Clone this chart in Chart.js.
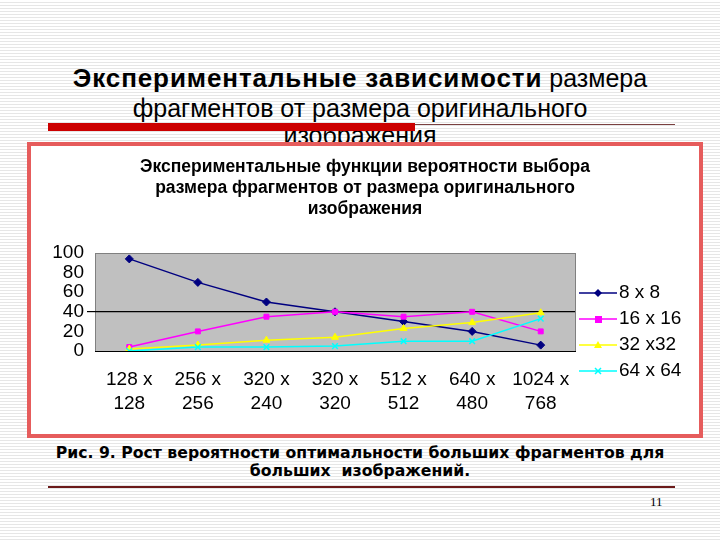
<!DOCTYPE html>
<html>
<head>
<meta charset="utf-8">
<script src="https://cdn.jsdelivr.net/npm/chart.js@4/dist/chart.umd.min.js"></script>
<style>
  html, body { margin: 0; padding: 0; }
  body {
    width: 720px; height: 540px; position: relative; overflow: hidden;
    background: repeating-linear-gradient(#ffffff 0px, #ffffff 2px, #e6e6e6 2px, #e6e6e6 3px);
    font-family: "Liberation Sans", Arial, sans-serif;
  }
  .head { position: absolute; left: 0; width: 720px; text-align: center; font-size: 25px; color: #000; line-height: 29px; }
  .head b { font-size: 26px; letter-spacing: 0.9px; }
  #redbar { position: absolute; left: 48px; top: 123px; width: 367px; height: 8px; background: #cc0000; }
  #thin { position: absolute; left: 415px; top: 124px; width: 260px; height: 1px; background: #7a4040; }
  #box { position: absolute; left: 27px; top: 142px; width: 668px; height: 288px; border: 4px solid #e65c5c; background: #fff; }
  #ctitle { position: absolute; left: 27px; top: 156px; width: 676px; text-align: center; font-size: 17.5px; font-weight: bold; line-height: 21px; }
  #legend { position: absolute; left: 579px; top: 279px; font-size: 19px; }
  #legend div { height: 26px; line-height: 26px; white-space: nowrap; }
  #legend svg { vertical-align: middle; margin-right: 2px; }
  .cap { position: absolute; left: 0; width: 720px; text-align: center; font-family: "DejaVu Sans", sans-serif; font-weight: bold; font-size: 15.7px; line-height: 18px; }
  #bline { position: absolute; left: 48px; top: 486px; width: 627px; height: 2px; background: #6b1a1a; }
  #pg { position: absolute; left: 650px; top: 494px; font-family: "Liberation Serif", serif; font-size: 13px; }
</style>
</head>
<body>
<div class="head" style="top:64px"><b>Экспериментальные зависимости</b> размера</div>
<div class="head" style="top:94px">фрагментов от размера оригинального</div>
<div class="head" style="top:121px">изображения</div>
<div id="redbar"></div>
<div id="thin"></div>
<div id="box"><canvas id="c" width="668" height="288"></canvas></div>
<div id="ctitle">Экспериментальные функции вероятности выбора<br>размера фрагментов от размера оригинального<br>изображения</div>
<div id="legend"></div>
<div class="cap" style="top:444px">Рис. 9. Рост вероятности оптимальности больших фрагментов для</div>
<div class="cap" style="top:462px">больших&nbsp; изображений.</div>
<div id="bline"></div>
<div id="pg">11</div>
<script>
// image sizes (x axis categories)
const sizes = [["128 x", "128"], ["256 x", "256"], ["320 x", "240"], ["320 x", "320"],
               ["512 x", "512"], ["640 x", "480"], ["1024 x", "768"]];
const seriesNames = ["8 x 8", "16 x 16", "32 x32", "64 x 64"];
// probability values
const frag8 = [94, 70, 50, 40, 30, 20, 6];
const frag16 = [4, 20, 35, 40, 35, 40, 20];
const frag32 = [2, 6, 11, 14, 23, 29, 39];
const frag64 = [0, 4, 4, 5, 10, 10, 33];
const yTicks = [0, 20, 40, 60, 80, 100];

const colors = ["#000080", "#ff00ff", "#ffff00", "#00ffff"];
const shapes = ["rectRot", "rect", "triangle", "crossRot"];
const values = [frag8, frag16, frag32, frag64];

// gray plot area like excel
const plotBg = {
  id: "plotBg",
  beforeDraw(chart) {
    const a = chart.chartArea, ctx = chart.ctx;
    ctx.save();
    ctx.fillStyle = "#c0c0c0";
    ctx.fillRect(a.left, a.top, a.right - a.left, a.bottom - a.top);
    ctx.strokeStyle = "#808080";
    ctx.lineWidth = 1;
    ctx.strokeRect(a.left + 0.5, a.top + 0.5, a.right - a.left, a.bottom - a.top);
    ctx.restore();
  }
};

new Chart(document.getElementById("c"), {
  type: "line",
  data: {
    labels: sizes,
    datasets: values.map((v, i) => ({
      label: seriesNames[i],
      data: v,
      borderColor: colors[i],
      backgroundColor: colors[i],
      borderWidth: 1.5,
      pointStyle: shapes[i],
      pointRadius: i == 1 ? 3.5 : 4,
      pointBorderWidth: i == 3 ? 1.5 : 1,
      tension: 0,
      order: 4 - i
    }))
  },
  options: {
    responsive: false,
    animation: false,
    layout: { padding: { left: 0, right: 124, top: 107, bottom: 0 } },
    plugins: {
      legend: { display: false },
      tooltip: { enabled: false }
    },
    scales: {
      x: {
        offset: true,
        grid: { display: false, drawTicks: false },
        border: { display: true, color: "#000" },
        ticks: { color: "#000", padding: 17, maxRotation: 0, autoSkip: false,
                 font: { family: "Liberation Sans", size: 19, lineHeight: 1.25 } },
        afterFit(s) { s.height = 83; }
      },
      y: {
        min: 0, max: 100,
        afterBuildTicks(s) { s.ticks = yTicks.map(v => ({ value: v })); },
        grid: {
          color: c => (c.tick && c.tick.value === 40 ? "#000" : "rgba(0,0,0,0)"),
          tickColor: c => (c.tick && c.tick.value === 40 ? "#000" : "rgba(0,0,0,0)"),
          tickLength: 8, lineWidth: 1.2
        },
        border: { display: false },
        ticks: { color: "#000", padding: 3, autoSkip: false,
                 font: { family: "Liberation Sans", size: 19, lineHeight: 1 } },
        afterFit(s) { s.width = 64; }
      }
    }
  },
  plugins: [plotBg]
});

// legend on the right, line with marker like excel
function markerSvg(i) {
  const c = colors[i];
  let m = "";
  if (i == 0) m = `<polygon points="19,3 23,7 19,11 15,7" fill="${c}"/>`;
  if (i == 1) m = `<rect x="16" y="4" width="7" height="7" fill="${c}"/>`;
  if (i == 2) m = `<polygon points="19,3 23,10 15,10" fill="${c}"/>`;
  if (i == 3) m = `<path d="M16 4 L22 10 M22 4 L16 10" stroke="${c}" stroke-width="1.5"/>`;
  return `<svg width="38" height="14"><line x1="0" y1="7" x2="38" y2="7" stroke="${c}" stroke-width="1.5"/>${m}</svg>`;
}
document.getElementById("legend").innerHTML =
  seriesNames.map((n, i) => `<div>${markerSvg(i)}${n}</div>`).join("");
</script>
</body>
</html>
